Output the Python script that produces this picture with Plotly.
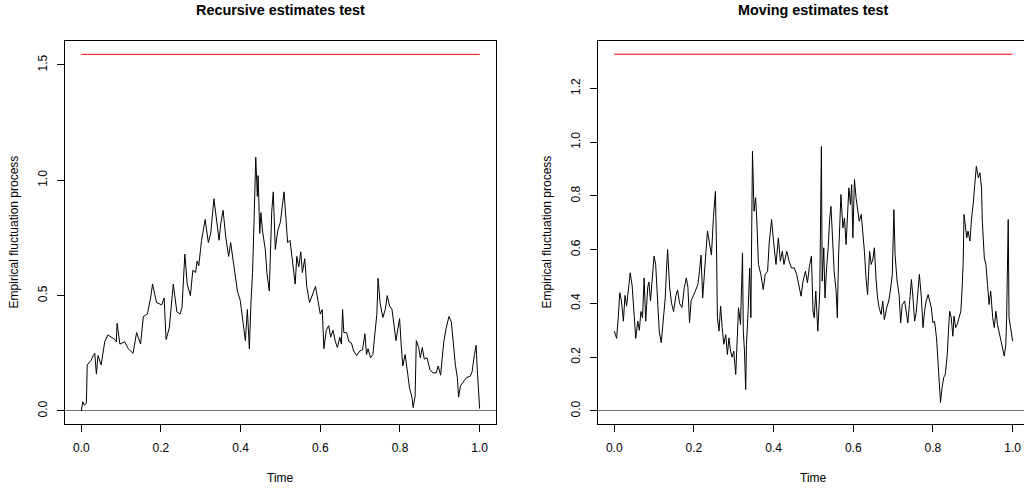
import plotly.graph_objects as go

# ---------------- data ----------------
rec_time = [0.0, 0.004, 0.008, 0.013, 0.015, 0.02, 0.025, 0.03, 0.034, 0.038, 0.042, 0.05, 0.059, 0.067,
            0.076, 0.084, 0.088, 0.09, 0.097, 0.109, 0.118, 0.13, 0.139, 0.149, 0.156, 0.166, 0.174, 0.179,
            0.189, 0.202, 0.208, 0.213, 0.221, 0.231, 0.24, 0.248, 0.253, 0.26, 0.266, 0.274, 0.28, 0.287,
            0.291, 0.295, 0.302, 0.311, 0.319, 0.325, 0.333, 0.339, 0.346, 0.35, 0.356, 0.363, 0.37, 0.375,
            0.384, 0.392, 0.399, 0.405, 0.412, 0.417, 0.422, 0.426, 0.43, 0.434, 0.438, 0.442, 0.444, 0.448,
            0.451, 0.455, 0.462, 0.466, 0.472, 0.478, 0.482, 0.487, 0.493, 0.5, 0.504, 0.509, 0.514, 0.518,
            0.524, 0.531, 0.537, 0.541, 0.546, 0.551, 0.555, 0.561, 0.566, 0.573, 0.58, 0.588, 0.594, 0.6,
            0.605, 0.609, 0.615, 0.621, 0.626, 0.632, 0.638, 0.643, 0.649, 0.653, 0.656, 0.659, 0.666, 0.672,
            0.678, 0.684, 0.691, 0.699, 0.706, 0.712, 0.716, 0.72, 0.726, 0.732, 0.737, 0.742, 0.745, 0.75,
            0.757, 0.763, 0.768, 0.774, 0.78, 0.784, 0.79, 0.795, 0.799, 0.803, 0.807, 0.813, 0.819, 0.824,
            0.83, 0.833, 0.838, 0.841, 0.847, 0.851, 0.856, 0.861, 0.868, 0.875, 0.883, 0.891, 0.896, 0.902,
            0.906, 0.91, 0.916, 0.923, 0.929, 0.934, 0.939, 0.944, 0.947, 0.952, 0.96, 0.967, 0.976, 0.981,
            0.987, 0.991, 0.994, 0.998, 1.0]
rec_value = [0.0, 0.04, 0.025, 0.035, 0.2, 0.21, 0.22, 0.24, 0.25, 0.16, 0.24, 0.2, 0.3, 0.33,
             0.32, 0.31, 0.3, 0.38, 0.29, 0.3, 0.27, 0.25, 0.34, 0.29, 0.41, 0.42, 0.49, 0.55,
             0.47, 0.46, 0.49, 0.31, 0.36, 0.55, 0.43, 0.42, 0.45, 0.68, 0.55, 0.5, 0.61, 0.6,
             0.65, 0.63, 0.74, 0.83, 0.73, 0.77, 0.92, 0.83, 0.74, 0.81, 0.87, 0.75, 0.67, 0.73,
             0.61, 0.52, 0.48, 0.4, 0.305, 0.44, 0.27, 0.47, 0.6, 0.84, 1.1, 0.93, 1.02, 0.77,
             0.86, 0.78, 0.7, 0.6, 0.52, 0.86, 0.95, 0.7, 0.78, 0.82, 0.87, 0.95, 0.83, 0.73,
             0.74, 0.625, 0.55, 0.67, 0.625, 0.69, 0.6, 0.66, 0.54, 0.47, 0.5, 0.54, 0.48, 0.42,
             0.44, 0.27, 0.35, 0.37, 0.32, 0.35, 0.3, 0.275, 0.32, 0.29, 0.44, 0.34, 0.34, 0.3,
             0.295, 0.26, 0.24, 0.26, 0.265, 0.335, 0.245, 0.27, 0.23, 0.245, 0.335, 0.42, 0.575, 0.47,
             0.405, 0.44, 0.5, 0.455, 0.44, 0.38, 0.305, 0.36, 0.4, 0.29, 0.195, 0.245, 0.16, 0.1,
             0.06, 0.015, 0.065, 0.305, 0.275, 0.23, 0.275, 0.225, 0.23, 0.18, 0.165, 0.165, 0.195, 0.155,
             0.23, 0.3, 0.36, 0.41, 0.385, 0.275, 0.2, 0.145, 0.06, 0.11, 0.13, 0.145, 0.15, 0.17,
             0.245, 0.285, 0.18, 0.06, 0.01]
rec_boundary = 1.546

mov_time = [0.0, 0.006, 0.01, 0.014, 0.018, 0.023, 0.027, 0.031, 0.037, 0.04, 0.045, 0.05, 0.054, 0.059,
            0.063, 0.067, 0.071, 0.075, 0.079, 0.084, 0.087, 0.091, 0.096, 0.1, 0.104, 0.108, 0.113, 0.118,
            0.122, 0.128, 0.131, 0.134, 0.139, 0.144, 0.149, 0.155, 0.159, 0.164, 0.17, 0.176, 0.181, 0.185,
            0.189, 0.193, 0.199, 0.205, 0.21, 0.214, 0.218, 0.222, 0.227, 0.231, 0.234, 0.239, 0.244, 0.249,
            0.254, 0.257, 0.259, 0.263, 0.267, 0.271, 0.275, 0.28, 0.284, 0.288, 0.292, 0.296, 0.3, 0.305,
            0.309, 0.312, 0.317, 0.322, 0.324, 0.327, 0.33, 0.332, 0.336, 0.34, 0.343, 0.347, 0.351, 0.355,
            0.358, 0.362, 0.368, 0.374, 0.379, 0.385, 0.389, 0.395, 0.4, 0.406, 0.412, 0.417, 0.422, 0.426,
            0.433, 0.439, 0.445, 0.452, 0.458, 0.464, 0.469, 0.474, 0.48, 0.485, 0.49, 0.495, 0.499, 0.502,
            0.506, 0.511, 0.516, 0.52, 0.522, 0.526, 0.529, 0.533, 0.537, 0.541, 0.544, 0.548, 0.552, 0.557,
            0.56, 0.563, 0.566, 0.569, 0.574, 0.578, 0.582, 0.586, 0.589, 0.593, 0.596, 0.599, 0.603, 0.607,
            0.611, 0.615, 0.62, 0.624, 0.628, 0.632, 0.636, 0.641, 0.645, 0.649, 0.653, 0.657, 0.661, 0.665,
            0.67, 0.674, 0.678, 0.684, 0.689, 0.693, 0.698, 0.702, 0.705, 0.71, 0.715, 0.719, 0.723, 0.729,
            0.733, 0.737, 0.741, 0.746, 0.75, 0.754, 0.758, 0.762, 0.766, 0.771, 0.775, 0.779, 0.783, 0.788,
            0.792, 0.796, 0.8, 0.804, 0.809, 0.813, 0.817, 0.819, 0.823, 0.827, 0.831, 0.836, 0.839, 0.842,
            0.846, 0.85, 0.853, 0.857, 0.861, 0.865, 0.87, 0.873, 0.876, 0.878, 0.882, 0.885, 0.888, 0.893,
            0.897, 0.901, 0.905, 0.909, 0.914, 0.918, 0.922, 0.924, 0.929, 0.933, 0.937, 0.941, 0.945, 0.95,
            0.954, 0.958, 0.962, 0.966, 0.97, 0.975, 0.979, 0.983, 0.985, 0.989, 0.991, 0.995, 0.998, 1.0]
mov_value = [0.297, 0.27, 0.347, 0.44, 0.41, 0.334, 0.43, 0.39, 0.47, 0.514, 0.465, 0.37, 0.27, 0.334,
             0.3, 0.37, 0.347, 0.495, 0.334, 0.46, 0.48, 0.41, 0.52, 0.576, 0.545, 0.42, 0.297, 0.254,
             0.334, 0.42, 0.52, 0.6, 0.46, 0.4, 0.37, 0.43, 0.45, 0.4, 0.385, 0.46, 0.495, 0.46,
             0.328, 0.41, 0.43, 0.45, 0.47, 0.52, 0.58, 0.42, 0.53, 0.607, 0.67, 0.625, 0.58, 0.72,
             0.817, 0.58, 0.347, 0.297, 0.39, 0.31, 0.248, 0.284, 0.21, 0.272, 0.223, 0.2, 0.223, 0.136,
             0.272, 0.384, 0.322, 0.588, 0.297, 0.223, 0.08, 0.248, 0.37, 0.532, 0.347, 0.966, 0.743, 0.793,
             0.706, 0.545, 0.508, 0.452, 0.508, 0.52, 0.625, 0.712, 0.63, 0.545, 0.644, 0.557, 0.594, 0.545,
             0.594, 0.557, 0.532, 0.532, 0.508, 0.47, 0.427, 0.483, 0.52, 0.477, 0.539, 0.576, 0.371, 0.347,
             0.446, 0.297, 0.446, 0.984, 0.483, 0.607, 0.42, 0.532, 0.607, 0.718, 0.761, 0.644, 0.52, 0.446,
             0.347, 0.569, 0.718, 0.805, 0.681, 0.718, 0.619, 0.731, 0.83, 0.768, 0.842, 0.644, 0.861, 0.793,
             0.743, 0.706, 0.731, 0.669, 0.594, 0.495, 0.433, 0.594, 0.545, 0.563, 0.607, 0.495, 0.421, 0.384,
             0.359, 0.409, 0.34, 0.384, 0.409, 0.446, 0.508, 0.749, 0.582, 0.483, 0.433, 0.328, 0.396, 0.409,
             0.371, 0.328, 0.396, 0.489, 0.42, 0.334, 0.365, 0.458, 0.508, 0.421, 0.31, 0.371, 0.409, 0.433,
             0.409, 0.384, 0.328, 0.334, 0.272, 0.173, 0.05, 0.031, 0.087, 0.124, 0.136, 0.21, 0.297, 0.371,
             0.347, 0.278, 0.353, 0.31, 0.322, 0.347, 0.371, 0.446, 0.557, 0.731, 0.669, 0.644, 0.669, 0.632,
             0.718, 0.768, 0.842, 0.91, 0.867, 0.886, 0.83, 0.706, 0.569, 0.545, 0.47, 0.396, 0.446, 0.347,
             0.31, 0.371, 0.322, 0.297, 0.26, 0.235, 0.204, 0.248, 0.347, 0.712, 0.347, 0.31, 0.272, 0.26]
mov_boundary = 1.327

x_ticks = [0.0, 0.2, 0.4, 0.6, 0.8, 1.0]
x_ticklabels = ["0.0", "0.2", "0.4", "0.6", "0.8", "1.0"]
rec_y_ticks = [0.0, 0.5, 1.0, 1.5]
rec_y_ticklabels = ["0.0", "0.5", "1.0", "1.5"]
mov_y_ticks = [0.0, 0.2, 0.4, 0.6, 0.8, 1.0, 1.2]
mov_y_ticklabels = ["0.0", "0.2", "0.4", "0.6", "0.8", "1.0", "1.2"]

titles = ["Recursive estimates test", "Moving estimates test"]
xlab = "Time"
ylab = "Empirical fluctuation process"

# ---------------- figure ----------------
W, H = 1024, 489
FONT = "Liberation Sans, Arial, Helvetica, sans-serif"

fig = go.Figure()

fig.add_trace(go.Scatter(x=rec_time, y=rec_value, mode="lines",
                         line=dict(color="black", width=1), xaxis="x", yaxis="y",
                         showlegend=False, hoverinfo="skip"))
fig.add_trace(go.Scatter(x=[0, 1], y=[rec_boundary, rec_boundary], mode="lines",
                         line=dict(color="red", width=1), xaxis="x", yaxis="y",
                         showlegend=False, hoverinfo="skip"))
fig.add_trace(go.Scatter(x=mov_time, y=mov_value, mode="lines",
                         line=dict(color="black", width=1), xaxis="x2", yaxis="y2",
                         showlegend=False, hoverinfo="skip"))
fig.add_trace(go.Scatter(x=[0, 1], y=[mov_boundary, mov_boundary], mode="lines",
                         line=dict(color="red", width=1), xaxis="x2", yaxis="y2",
                         showlegend=False, hoverinfo="skip"))

# panel geometry in pixels
L1, R1 = 65.3, 495.6
L2, R2 = 598.3, 1024.0
TOP, BOT = 40.5, 424.3

ydom = [1 - BOT / H, 1 - TOP / H]

common_x = dict(tickvals=x_ticks, ticktext=x_ticklabels, ticks="outside", ticklen=7,
                tickcolor="black", tickwidth=1, showgrid=False, zeroline=False,
                showline=True, linecolor="black", linewidth=1, mirror=True,
                tickfont=dict(family=FONT, size=12, color="black"),
                ticklabelstandoff=5)
common_y = dict(ticks="outside", ticklen=7, tickcolor="black", tickwidth=1,
                showgrid=False, zeroline=True, zerolinecolor="#707070", zerolinewidth=1,
                showline=True, linecolor="black", linewidth=1,
                tickangle=-90, tickfont=dict(family=FONT, size=12, color="black"),
                ticklabelstandoff=6)

fig.update_layout(
    width=W, height=H,
    margin=dict(l=0, r=0, t=0, b=0),
    paper_bgcolor="white", plot_bgcolor="white",
    xaxis=dict(domain=[L1 / W, R1 / W], range=[-0.04, 1.04], anchor="y", **common_x),
    yaxis=dict(domain=ydom, range=[-0.0577, 1.606], anchor="x",
               tickvals=rec_y_ticks, ticktext=rec_y_ticklabels, mirror=True,
               **common_y),
    xaxis2=dict(domain=[L2 / W, R2 / W], range=[-0.04, 1.0286], anchor="y2", **common_x),
    yaxis2=dict(domain=ydom, range=[-0.0495, 1.378], anchor="x2",
                tickvals=mov_y_ticks, ticktext=mov_y_ticklabels, mirror=False,
                **common_y),
)

annots = []
centers = [((L1 + R1) / 2), ((L2 + 1029.0) / 2)]
ylab_x = [14.0, 547.0]
for i in range(2):
    annots.append(dict(text="<b>%s</b>" % titles[i], x=centers[i] / W, y=1 - 10.5 / H,
                       xref="paper", yref="paper", xanchor="center", yanchor="middle",
                       showarrow=False, font=dict(family=FONT, size=14.4, color="black")))
    annots.append(dict(text=xlab, x=centers[i] / W, y=1 - 478 / H,
                       xref="paper", yref="paper", xanchor="center", yanchor="middle",
                       showarrow=False, font=dict(family=FONT, size=12, color="black")))
    annots.append(dict(text=ylab, x=ylab_x[i] / W, y=1 - ((TOP + BOT) / 2) / H,
                       xref="paper", yref="paper", xanchor="center", yanchor="middle",
                       textangle=-90, showarrow=False,
                       font=dict(family=FONT, size=12, color="black")))
fig.update_layout(annotations=annots)

fig.write_html("out.html",
               config={"displayModeBar": False, "staticPlot": True},
               post_script="document.body.style.margin='0';document.body.style.overflow='hidden';")
